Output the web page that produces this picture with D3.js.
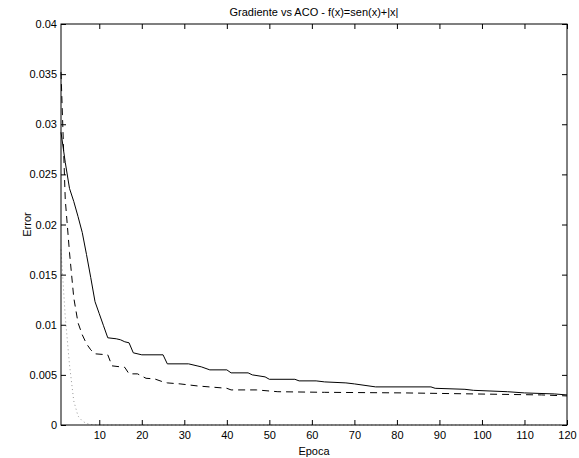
<!DOCTYPE html>
<html>
<head>
<meta charset="utf-8">
<script src="https://cdn.jsdelivr.net/npm/d3@7"></script>
<style>
  body { margin: 0; background: #fff; }
  svg text { font-family: "Liberation Sans", Arial, Helvetica, sans-serif; fill: #000; }
</style>
</head>
<body>
<svg id="chart" width="579" height="458"></svg>
<script>
// Datos: [época, error]
const serieContinua = [
  [1, 0.0292], [2, 0.0262], [3, 0.0236], [4, 0.0223], [5, 0.0208], [6, 0.0192],
  [7, 0.0170], [8, 0.0147], [9, 0.0123], [10, 0.0111], [11, 0.0099], [12, 0.0087],
  [14, 0.0086], [15, 0.0085], [16, 0.0083], [17, 0.0082], [18, 0.0072], [20, 0.0070],
  [25, 0.0070], [26, 0.0061], [31, 0.0061], [33, 0.0059], [34, 0.0058], [36, 0.0055],
  [40, 0.0055], [41, 0.0052], [45, 0.0052], [46, 0.0050], [49, 0.0048], [50, 0.00456],
  [56, 0.00456], [57, 0.0044], [61, 0.0044], [63, 0.0043], [68, 0.0042], [70, 0.0041],
  [75, 0.0038], [88, 0.0038], [89, 0.00366], [96, 0.00356], [98, 0.00346],
  [106, 0.00332], [110, 0.0032], [117, 0.0031], [120, 0.0030]
];

const serieDiscontinua = [
  [1, 0.0352], [2, 0.0225], [3, 0.0172], [4, 0.0127], [5, 0.0102], [6, 0.0090],
  [7, 0.0081], [8, 0.0075], [9, 0.0071], [12, 0.0070], [13, 0.0059], [16, 0.00575],
  [17, 0.0051], [19, 0.0051], [21, 0.00466], [23, 0.0046], [25, 0.0043], [26, 0.0042],
  [29, 0.0041], [33, 0.0039], [40, 0.00366], [41, 0.0035], [47, 0.0035], [52, 0.00332],
  [63, 0.00326], [82, 0.0032], [98, 0.0031], [114, 0.0030], [120, 0.0029]
];

const seriePunteada = [
  [1, 0.0175], [2, 0.0108], [3, 0.0060], [4, 0.0024], [5, 0.0009], [6, 0.0004],
  [7, 0.00015], [8, 0.00005], [10, 0], [120, 0]
];

const xTicks = [10, 20, 30, 40, 50, 60, 70, 80, 90, 100, 110, 120];
const yTicks = [0, 0.005, 0.01, 0.015, 0.02, 0.025, 0.03, 0.035, 0.04];

const titulo = 'Gradiente vs ACO - f(x)=sen(x)+|x|';
const etiquetaX = 'Epoca';
const etiquetaY = 'Error';

// ============ dibujo ============
const margin = { left: 61, right: 12, top: 24, bottom: 33 };
const width = 579, height = 458;

const svg = d3.select('#chart');

const x = d3.scaleLinear().domain([1, 120]).range([margin.left, width - margin.right]);
const y = d3.scaleLinear().domain([0, 0.04]).range([height - margin.bottom, margin.top]);

const x0 = x.range()[0], x1 = x.range()[1];
const y0 = y.range()[0], y1 = y.range()[1];

const fmt = d => d === 0 ? '0' : String(+d.toFixed(3));

// curvas
const line = d3.line().x(d => x(d[0])).y(d => y(d[1]));

const plot = svg.append('g');

plot.append('path')
  .datum(seriePunteada)
  .attr('d', line)
  .style('fill', 'none')
  .style('stroke', '#999')
  .style('stroke-width', 1)
  .style('stroke-dasharray', '1,3');

plot.append('path')
  .datum(serieDiscontinua)
  .attr('d', line)
  .style('fill', 'none')
  .style('stroke', '#000')
  .style('stroke-width', 1)
  .style('stroke-dasharray', '7,5');

plot.append('path')
  .datum(serieContinua)
  .attr('d', line)
  .style('fill', 'none')
  .style('stroke', '#000')
  .style('stroke-width', 1);

// ejes: abajo y arriba con ticks hacia dentro
const xAxisBottom = d3.axisBottom(x).tickValues(xTicks).tickSizeInner(-5).tickSizeOuter(0).tickPadding(6).tickFormat(d3.format('d'));
const xAxisTop = d3.axisTop(x).tickValues(xTicks).tickSizeInner(-5).tickSizeOuter(0).tickFormat('');
const yAxisLeft = d3.axisLeft(y).tickValues(yTicks).tickSizeInner(-5).tickSizeOuter(0).tickPadding(4).tickFormat(fmt);
const yAxisRight = d3.axisRight(y).tickValues(yTicks).tickSizeInner(-5).tickSizeOuter(0).tickFormat('');

function estilo(g) {
  g.selectAll('.domain').remove();
  g.selectAll('line').style('stroke', '#000').style('stroke-width', 1);
  g.selectAll('text').style('font-size', '11px').attr('fill', '#000');
}

svg.append('g').attr('transform', `translate(0,${y0})`).call(xAxisBottom).call(estilo);
svg.append('g').attr('transform', `translate(0,${y1})`).call(xAxisTop).call(estilo);
svg.append('g').attr('transform', `translate(${x0},0)`).call(yAxisLeft).call(estilo);
svg.append('g').attr('transform', `translate(${x1},0)`).call(yAxisRight).call(estilo);

// caja
svg.append('rect')
  .attr('x', x0).attr('y', y1)
  .attr('width', x1 - x0).attr('height', y0 - y1)
  .style('fill', 'none')
  .style('stroke', '#000')
  .style('stroke-width', 1);

// textos
svg.append('text')
  .attr('x', (x0 + x1) / 2)
  .attr('y', y1 - 8)
  .attr('text-anchor', 'middle')
  .style('font-size', '11px')
  .text(titulo);

svg.append('text')
  .attr('x', (x0 + x1) / 2)
  .attr('y', height - 3)
  .attr('text-anchor', 'middle')
  .style('font-size', '11px')
  .text(etiquetaX);

svg.append('text')
  .attr('transform', `translate(31,${(y0 + y1) / 2}) rotate(-90)`)
  .attr('text-anchor', 'middle')
  .style('font-size', '11px')
  .text(etiquetaY);
</script>
</body>
</html>
